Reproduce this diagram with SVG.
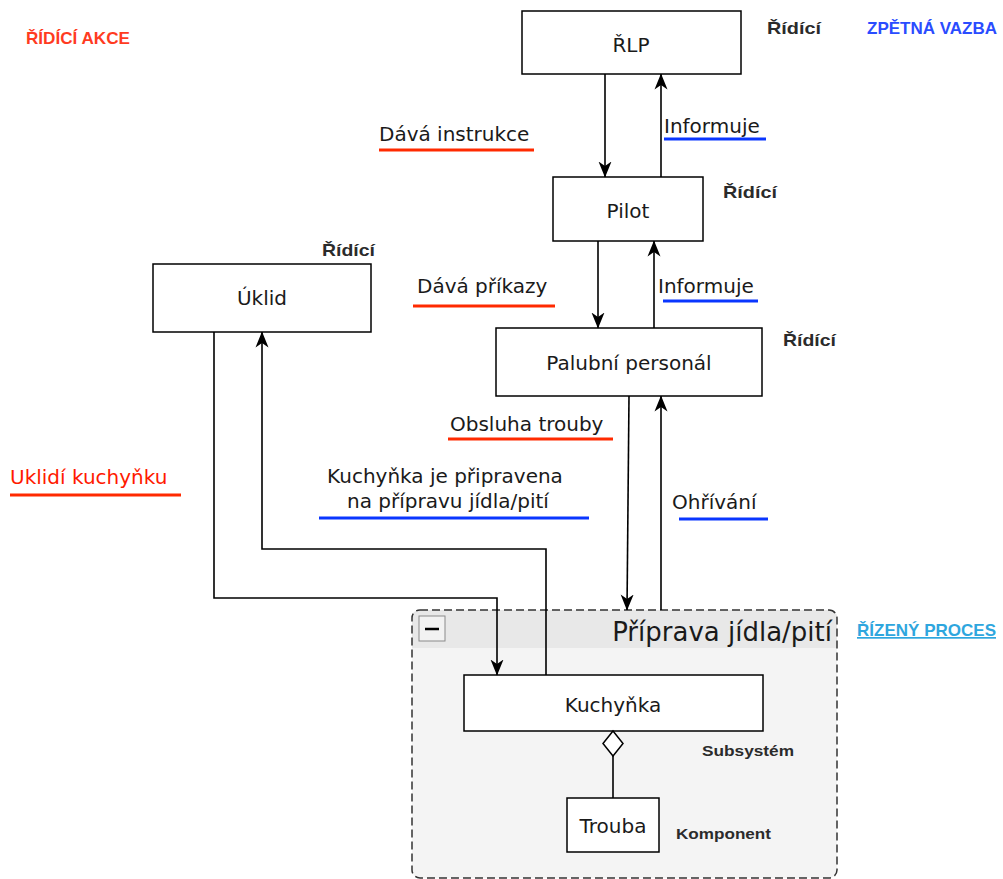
<svg xmlns="http://www.w3.org/2000/svg" width="1003" height="879" viewBox="0 0 1003 879">
  <defs>
    <marker id="arrow" viewBox="0 0 16 14" refX="15.5" refY="7" markerWidth="16" markerHeight="14" markerUnits="userSpaceOnUse" orient="auto">
      <path d="M0,0.5 L16,7 L0,13.5 L4.5,7 z" fill="#000"/>
    </marker>
    <style>
      .node { fill: #fff; stroke: #000; stroke-width: 1.5; }
      .ntext { font-family: "DejaVu Sans", sans-serif; font-size: 20px; fill: #1a1a1a; text-anchor: middle; }
      .lbl { font-family: "DejaVu Sans", sans-serif; font-size: 20px; fill: #1a1a1a; }
      .tag { font-family: "Liberation Sans", Arial, sans-serif; font-size: 17px; font-weight: bold; fill: #2b2b2b; }
      .conn { fill: none; stroke: #000; stroke-width: 1.6; }
      .ul-red { stroke: #ff2a00; stroke-width: 3; }
      .ul-blue { stroke: #0a36ff; stroke-width: 3; }
    </style>
  </defs>

  <rect width="1003" height="879" fill="#fff"/>

  <!-- legend -->
  <g id="legend">
    <text x="26" y="44" class="tag" style="fill:#ff3b1f" textLength="104" lengthAdjust="spacingAndGlyphs">ŘÍDÍCÍ AKCE</text>
    <text x="867" y="34" class="tag" style="fill:#2a4cff" textLength="130" lengthAdjust="spacingAndGlyphs">ZPĚTNÁ VAZBA</text>
  </g>

  <!-- controlled process container -->
  <g id="priprava">
    <rect x="412" y="610" width="425" height="268" rx="8" fill="#f4f4f4"/>
    <path d="M412,648 V618 Q412,610 420,610 H829 Q837,610 837,618 V648 Z" fill="#e8e8e8"/>
    <rect x="412" y="610" width="425" height="268" rx="8" fill="none" stroke="#333" stroke-width="1.5" stroke-dasharray="8 4"/>
    <rect x="419" y="616" width="26" height="25" fill="#f2f2f2" stroke="#8a8a8a" stroke-width="1"/>
    <line x1="425" y1="629" x2="439" y2="629" stroke="#000" stroke-width="2.5"/>
    <text x="832" y="641" class="lbl" style="font-size:26px;text-anchor:end">Příprava jídla/pití</text>
    <text x="857" y="636" class="tag" style="fill:#2ea6de;text-decoration:underline" textLength="139" lengthAdjust="spacingAndGlyphs">ŘÍZENÝ PROCES</text>
  </g>

  <g id="rlp">
    <rect class="node" x="522" y="11" width="219" height="63"/>
    <text x="631" y="52" class="ntext">ŘLP</text>
    <text x="767" y="34" class="tag" textLength="54" lengthAdjust="spacingAndGlyphs">Řídící</text>
  </g>

  <g id="pilot">
    <rect class="node" x="553" y="177" width="150" height="64"/>
    <text x="628" y="218" class="ntext">Pilot</text>
    <text x="723" y="198" class="tag" textLength="54" lengthAdjust="spacingAndGlyphs">Řídící</text>
  </g>

  <g id="palubni-personal">
    <rect class="node" x="496" y="328" width="266" height="68"/>
    <text x="629" y="370" class="ntext">Palubní personál</text>
    <text x="783" y="346" class="tag" textLength="53" lengthAdjust="spacingAndGlyphs">Řídící</text>
  </g>

  <g id="uklid">
    <rect class="node" x="153" y="264" width="218" height="68"/>
    <text x="262" y="305" class="ntext">Úklid</text>
    <text x="322" y="256" class="tag" textLength="53" lengthAdjust="spacingAndGlyphs">Řídící</text>
  </g>

  <g id="kuchynka">
    <rect class="node" x="464" y="675" width="299" height="56"/>
    <text x="613" y="712" class="ntext">Kuchyňka</text>
    <text x="702" y="756" class="tag" style="font-size:15px" textLength="92" lengthAdjust="spacingAndGlyphs">Subsystém</text>
  </g>

  <g id="trouba">
    <rect class="node" x="567" y="798" width="92" height="54"/>
    <text x="613" y="833" class="ntext">Trouba</text>
    <text x="676" y="839" class="tag" style="font-size:15px" textLength="95" lengthAdjust="spacingAndGlyphs">Komponent</text>
  </g>

  <!-- connectors -->
  <g id="connectors">
    <line class="conn" x1="605" y1="74" x2="605" y2="177" marker-end="url(#arrow)"/>
    <line class="conn" x1="661" y1="177" x2="661" y2="74" marker-end="url(#arrow)"/>
    <line class="conn" x1="598" y1="241" x2="598" y2="328" marker-end="url(#arrow)"/>
    <line class="conn" x1="654" y1="328" x2="654" y2="241" marker-end="url(#arrow)"/>
    <line class="conn" x1="629" y1="396" x2="627" y2="610" marker-end="url(#arrow)"/>
    <line class="conn" x1="661" y1="610" x2="661" y2="396" marker-end="url(#arrow)"/>
    <polyline class="conn" points="214,332 214,598 497,598 497,675" marker-end="url(#arrow)"/>
    <polyline class="conn" points="546,675 546,549 262,549 262,332" marker-end="url(#arrow)"/>
    <line class="conn" x1="613" y1="798" x2="613" y2="756"/>
    <path d="M613,731 L623,743.5 L613,756 L603,743.5 Z" fill="#fff" stroke="#000" stroke-width="1.5"/>
  </g>

  <!-- connector labels -->
  <g id="labels">
    <text x="379" y="141" class="lbl">Dává instrukce</text>
    <line class="ul-red" x1="379" y1="150" x2="534" y2="150"/>
    <text x="664" y="133" class="lbl">Informuje</text>
    <line class="ul-blue" x1="664" y1="139" x2="766" y2="139"/>
    <text x="417" y="293" class="lbl">Dává příkazy</text>
    <line class="ul-red" x1="413" y1="306" x2="555" y2="306"/>
    <text x="658" y="293" class="lbl">Informuje</text>
    <line class="ul-blue" x1="663" y1="301" x2="758" y2="301"/>
    <text x="450" y="431" class="lbl">Obsluha trouby</text>
    <line class="ul-red" x1="448" y1="439" x2="613" y2="439"/>
    <text x="445" y="483" class="lbl" style="text-anchor:middle">Kuchyňka je připravena</text>
    <text x="448" y="508" class="lbl" style="text-anchor:middle">na přípravu jídla/pití</text>
    <line class="ul-blue" x1="319" y1="518" x2="589" y2="518"/>
    <text x="672" y="509" class="lbl">Ohřívání</text>
    <line class="ul-blue" x1="679" y1="519" x2="768" y2="519"/>
    <text x="10" y="484" class="lbl" style="fill:#ff1a00">Uklidí kuchyňku</text>
    <line class="ul-red" x1="10" y1="495" x2="181" y2="495"/>
  </g>
</svg>
